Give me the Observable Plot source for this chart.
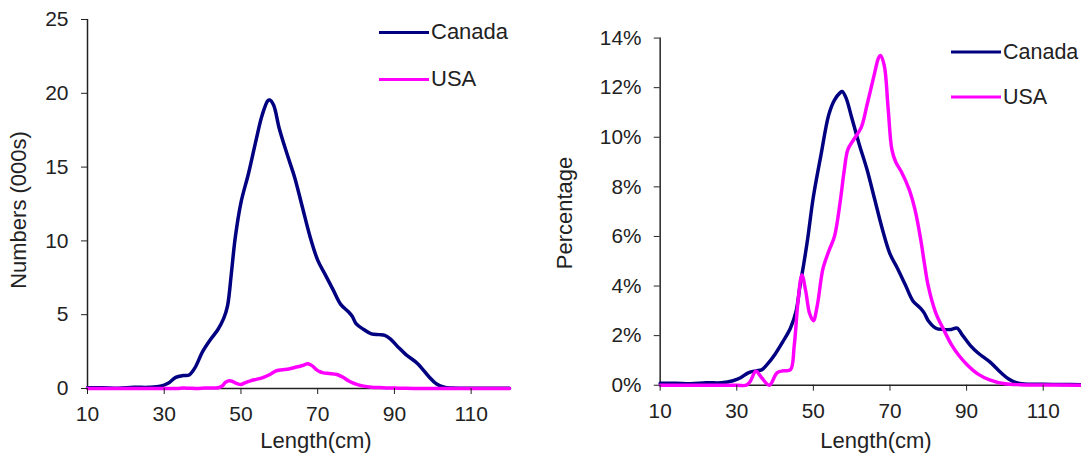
<!DOCTYPE html>
<html><head><meta charset="utf-8">
<script src="https://cdn.jsdelivr.net/npm/d3@7"></script>
<script src="https://cdn.jsdelivr.net/npm/@observablehq/plot@0.6"></script>
<style>
body{margin:0;background:#fff;overflow:hidden}
#wrap{position:relative;width:1081px;height:457px;overflow:hidden;background:#fff;font-family:"Liberation Sans",Arial,sans-serif;color:#222}
.panel{position:absolute;top:0}
.title{position:absolute;font-size:22px;white-space:nowrap;transform:translate(-50%,-50%)}
.ytitle{transform:translate(-50%,-50%) rotate(-90deg)}
.leg{position:absolute;display:flex;align-items:center;font-size:22px;white-space:nowrap;transform:translateY(-50%)}
.sw{display:inline-block;width:50px;height:0;border-top:3.5px solid;margin-right:2px}
</style></head><body><div id="wrap"></div>
<script>
const lengthTicks = [10,30,50,70,90,110];
const numberTicks = [0,5,10,15,20,25];
const percentTicks = [0,2,4,6,8,10,12,14];
const seriesNames = ["Canada","USA"];
const seriesColors = ["#000080","#ff00ff"];

const canadaLength = [10,14,18,22,26,29,31,33,35,36.5,38,40,42,44,45.5,46.5,47.5,48.5,50,52,54,55.5,57,57.5,58.5,60,62,64,66,68,70,72,74,76,78,79,80,82,84,86,87.5,89,91,93,96,99,101,103,105,110,115,120];
const canadaNumbers = [0.05,0.05,0.02,0.08,0.08,0.15,0.35,0.75,0.88,0.92,1.4,2.5,3.3,4.0,4.75,5.6,7.8,10.2,12.6,14.6,16.9,18.5,19.5,19.55,19.2,17.6,15.9,14.3,12.3,10.3,8.7,7.7,6.7,5.7,5.2,4.9,4.4,4.0,3.7,3.65,3.6,3.35,2.8,2.3,1.7,0.8,0.3,0.08,0.03,0.02,0.01,0.01];
const canadaPercent = [0.08,0.08,0.06,0.1,0.1,0.18,0.3,0.5,0.58,0.62,0.85,1.25,1.75,2.3,3.0,4.0,4.9,5.9,7.6,9.3,10.9,11.5,11.8,11.85,11.6,10.8,9.7,8.7,7.5,6.3,5.3,4.7,4.05,3.4,3.1,2.9,2.6,2.3,2.25,2.25,2.3,2.0,1.6,1.3,0.95,0.5,0.25,0.1,0.05,0.04,0.03,0.02];

const usaLength = [10,20,30,32.5,33.5,35,36.5,38.5,40.5,42,44,45,46,47,48,49,50,51,52.5,54,55.5,57,58,59,60.5,62.5,64,66,67,67.5,68.5,69.5,70.5,71.5,73,75,76.5,78,79,80,82,84,86,88,90,93,96,100,104,110,120];
const usaNumbers = [0,0,0,0,0,0.03,0.02,0,0.03,0.04,0.05,0.15,0.42,0.53,0.45,0.33,0.27,0.38,0.52,0.62,0.72,0.88,1.02,1.18,1.26,1.32,1.42,1.56,1.65,1.67,1.55,1.32,1.14,1.06,1.02,0.95,0.78,0.52,0.4,0.3,0.16,0.09,0.06,0.04,0.03,0.01,0.005,0,0,0,0];
const usaPercent = [0,0,0,0,0.15,0.56,0.3,0,0.5,0.58,0.62,1.6,3.4,4.45,3.8,2.9,2.6,3.2,4.7,5.4,6.0,7.4,8.6,9.5,9.9,10.4,11.3,12.6,13.2,13.3,12.9,11.2,9.5,9.0,8.6,7.9,7.1,5.9,4.9,4.0,2.9,2.25,1.65,1.2,0.85,0.45,0.22,0.06,0.02,0.01,0];

const rows = [
  ...canadaLength.map((L, i) => ({series: seriesNames[0], length: L, numbers: canadaNumbers[i], percent: canadaPercent[i]})),
  ...usaLength.map((L, i) => ({series: seriesNames[1], length: L, numbers: usaNumbers[i], percent: usaPercent[i]}))
];

const wrap = document.getElementById("wrap");

function panel({left, y, yTicks, yFmt, width, marginLeft, marginRight, marginTop, marginBottom}) {
  const chart = Plot.plot({
    width, height: 457, marginLeft, marginRight, marginTop, marginBottom,
    style: {fontFamily: '"Liberation Sans", Arial, sans-serif', fontSize: "21px", color: "#222", background: "transparent", overflow: "visible"},
    x: {domain: [lengthTicks[0], 120]},
    y: {domain: [yTicks[0], yTicks[yTicks.length - 1]]},
    color: {domain: seriesNames, range: seriesColors},
    marks: [
      Plot.ruleX([lengthTicks[0]], {stroke: "#222", strokeWidth: 1.5}),
      Plot.ruleY([yTicks[0]], {stroke: "#222", strokeWidth: 1.5}),
      Plot.line(rows, {x: "length", y, z: "series", stroke: "series", strokeWidth: 3.5, curve: "catmull-rom"}),
      Plot.axisX({ticks: lengthTicks, tickSize: 6, tickPadding: 12, label: null}),
      Plot.axisY({ticks: yTicks, tickFormat: yFmt, tickSize: 6, tickPadding: 13, label: null})
    ]
  });
  const div = document.createElement("div");
  div.className = "panel";
  div.style.left = left + "px";
  div.appendChild(chart);
  wrap.appendChild(div);
}

panel({left: 0, y: "numbers", yTicks: numberTicks, yFmt: d => String(d), width: 540, marginLeft: 87, marginRight: 31, marginTop: 19, marginBottom: 69});
panel({left: 540, y: "percent", yTicks: percentTicks, yFmt: d => d + "%", width: 547, marginLeft: 121, marginRight: 0, marginTop: 38, marginBottom: 68});

function addText(cls, text, x, y) {
  const d = document.createElement("div");
  d.className = cls;
  d.textContent = text;
  d.style.left = x + "px";
  d.style.top = y + "px";
  wrap.appendChild(d);
}
addText("title ytitle", "Numbers (000s)", 19, 210);
addText("title", "Length(cm)", 316, 441);
addText("title ytitle", "Percentage", 565, 213);
addText("title", "Length(cm)", 876, 441);

function addLegend(x, y, i, size) {
  const d = document.createElement("div");
  d.className = "leg";
  d.style.left = x + "px";
  d.style.top = y + "px";
  if (size) d.style.fontSize = size + "px";
  const sw = document.createElement("span");
  sw.className = "sw";
  sw.style.borderTopColor = seriesColors[i];
  d.appendChild(sw);
  d.appendChild(document.createTextNode(seriesNames[i]));
  wrap.appendChild(d);
}
addLegend(379, 32, 0);
addLegend(379, 79, 1);
addLegend(951, 52, 0, 21.5);
addLegend(951, 97, 1, 21.5);
</script></body></html>
